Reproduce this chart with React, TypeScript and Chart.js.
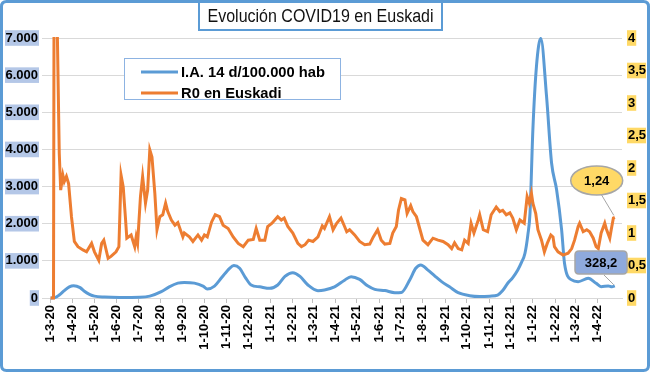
import React, { useEffect, useRef } from "react";
import { Chart, registerables } from "chart.js";

Chart.register(...registerables);

// ---- texts ----
const TITLE = "Evolución COVID19 en Euskadi";
const IA_LABEL = "I.A. 14 d/100.000 hab";
const R0_LABEL = "R0 en Euskadi";

// ---- x axis tick labels (d-m-yy) ----
const tickLabels = [
  "1-3-20", "1-4-20", "1-5-20", "1-6-20", "1-7-20", "1-8-20", "1-9-20", "1-10-20",
  "1-11-20", "1-12-20", "1-1-21", "1-2-21", "1-3-21", "1-4-21", "1-5-21", "1-6-21",
  "1-7-21", "1-8-21", "1-9-21", "1-10-21", "1-11-21", "1-12-21", "1-1-22", "1-2-22",
  "1-3-22", "1-4-22",
];

// ---- I.A. 14 d/100.000 hab (days since 1-3-2020) ----
const iaDays = [
  0, 6, 12, 19, 26, 32, 41, 47, 54, 61, 75, 96, 124, 138, 154, 165, 177, 186, 200, 212,
  218, 228, 238, 249, 255, 263, 271, 279, 291, 305, 316, 326, 337, 347, 358, 372, 381, 395, 409, 418,
  430, 441, 451, 465, 479, 488, 500, 508, 515, 525, 534, 544, 555, 567, 583, 597, 611, 622, 629, 636,
  643, 650, 655, 660, 664, 667, 671, 676, 682, 690, 697, 704, 711, 715, 725, 734, 748, 759, 766, 776,
  781, 785,
];
const iaValues = [
  0, 10, 80, 200, 300, 332, 280, 180, 100, 50, 25, 15, 20, 50, 170, 300, 400, 420, 400, 320,
  243, 320, 550, 800, 872, 800, 550, 350, 300, 260, 350, 580, 683, 580, 350, 197, 216, 300, 480, 575,
  500, 330, 234, 200, 143, 150, 500, 800, 890, 750, 600, 440, 300, 143, 62, 40, 50, 80, 200, 396,
  550, 755, 950, 1206, 1700, 2285, 4533, 6241, 6990, 5432, 3634, 2914, 1835, 936, 486, 440, 530, 396, 305, 324,
  300, 328.2,
];

// ---- R0 en Euskadi (days since 1-3-2020) ----
const r0Days = [
  0, 4, 5, 9, 12, 14, 17, 19, 22, 25, 29, 33, 38, 45, 50, 57, 61, 67, 71, 74,
  80, 84, 91, 95, 98, 101, 104, 106, 112, 117, 119, 121, 125, 128, 132, 135, 138, 141, 145, 148,
  152, 156, 160, 163, 168, 173, 177, 184, 186, 193, 198, 205, 210, 214, 218, 224, 229, 235, 240, 247,
  254, 261, 268, 275, 282, 286, 291, 298, 302, 308, 316, 321, 325, 330, 337, 344, 349, 354, 359, 365,
  372, 378, 381, 388, 393, 398, 404, 409, 412, 416, 423, 430, 437, 444, 449, 455, 460, 465, 472, 476,
  481, 484, 488, 493, 496, 501, 504, 509, 514, 518, 525, 532, 539, 546, 553, 558, 562, 567, 572, 576,
  581, 585, 589, 595, 597, 602, 608, 613, 620, 625, 629, 634, 639, 643, 648, 653, 659, 663, 666, 669,
  671, 675, 678, 683, 687, 691, 696, 699, 701, 706, 713, 720, 725, 729, 734, 736, 741, 746, 750, 755,
  759, 762, 766, 771, 773, 778, 780, 783, 785,
];
const r0Values = [
  0, 0, 6, 4.3, 2.23, 1.66, 1.89, 1.79, 1.87, 1.76, 1.25, 0.87, 0.79, 0.74, 0.71, 0.84, 0.71, 0.58, 0.84, 0.89,
  0.61, 0.64, 0.71, 0.79, 1.89, 1.71, 1.25, 0.92, 0.97, 0.79, 0.94, 0.84, 1.56, 1.87, 1.46, 1.66, 2.28, 2.17, 1.61, 1.05,
  1.25, 1.28, 1.46, 1.33, 1.2, 1.12, 1.16, 0.94, 1.0, 0.94, 0.87, 0.97, 0.89, 0.97, 0.94, 1.17, 1.28, 1.25, 1.12, 1.07,
  0.94, 0.84, 0.79, 0.89, 0.9, 1.07, 0.89, 0.89, 1.1, 1.15, 1.25, 1.2, 1.23, 1.1, 1.0, 0.84, 0.79, 0.82, 0.89, 0.87,
  0.94, 1.11, 1.07, 1.25, 1.05, 1.15, 1.23, 1.1, 1.02, 1.05, 0.97, 0.87, 0.82, 0.83, 0.94, 1.05, 0.89, 0.83, 0.84, 1.0,
  1.1, 1.35, 1.53, 1.51, 1.3, 1.42, 1.33, 1.25, 1.05, 0.89, 0.82, 0.92, 0.89, 0.87, 0.82, 0.76, 0.85, 0.76, 0.74, 0.89,
  0.84, 1.15, 1.0, 1.2, 1.28, 1.05, 1.02, 1.28, 1.4, 1.33, 1.35, 1.28, 1.31, 1.23, 1.05, 1.2, 1.15, 1.56, 1.46, 1.61,
  1.46, 1.3, 1.05, 0.89, 0.71, 0.84, 0.97, 0.94, 0.79, 0.71, 0.66, 0.69, 0.76, 0.89, 1.1, 1.15, 1.02, 1.05, 1.02, 0.92,
  0.79, 0.76, 1.0, 1.15, 1.07, 0.92, 1.05, 1.23, 1.24,
];

// ---- axis ranges ----
const X_MIN = -12;
const X_MAX = 795;
const IA_MAX = 7000;
const IA_STEP = 1000;
const R0_MAX = 4;
const R0_STEP = 0.5;

// ---- styles ----
const BLUE = "#5b9bd5";
const ORANGE = "#ed7d31";
const GRID = "#d9d9d9";
const FAMILY = "'Liberation Sans', Arial, sans-serif";
const TICK_FONT = { family: FAMILY, size: 13, weight: "bold" as const };

const DAY0 = Date.UTC(2020, 2, 1);
function dayOfLabel(lbl: string): number {
  const [d, m, y] = lbl.split("-").map(Number);
  return Math.round((Date.UTC(2000 + y, m - 1, d) - DAY0) / 86400000);
}
const tickDays = tickLabels.map(dayOfLabel);

function fmtThousands(v: number): string {
  return String(Math.round(v)).replace(/\B(?=(\d{3})+(?!\d))/g, ".");
}
function fmtComma(v: number): string {
  return String(v).replace(".", ",");
}

function roundRect(ctx: CanvasRenderingContext2D, x: number, y: number, w: number, h: number, r: number) {
  ctx.beginPath();
  ctx.moveTo(x + r, y);
  ctx.lineTo(x + w - r, y);
  ctx.quadraticCurveTo(x + w, y, x + w, y + r);
  ctx.lineTo(x + w, y + h - r);
  ctx.quadraticCurveTo(x + w, y + h, x + w - r, y + h);
  ctx.lineTo(x + r, y + h);
  ctx.quadraticCurveTo(x, y + h, x, y + h - r);
  ctx.lineTo(x, y + r);
  ctx.quadraticCurveTo(x, y, x + r, y);
  ctx.closePath();
}

// draws text horizontally condensed by factor k (left-aligned at x)
function drawCondensed(ctx: CanvasRenderingContext2D, text: string, x: number, y: number, k: number) {
  ctx.save();
  ctx.translate(x, y);
  ctx.scale(k, 1);
  ctx.textAlign = "left";
  ctx.fillText(text, 0, 0);
  ctx.restore();
}

const overlayPlugin = {
  id: "overlay",
  beforeDraw(chart: any) {
    const ctx = chart.ctx as CanvasRenderingContext2D;
    ctx.save();
    ctx.fillStyle = "#ffffff";
    ctx.fillRect(0, 0, chart.width, chart.height);
    ctx.restore();
  },
  afterDraw(chart: any) {
    const ctx = chart.ctx as CanvasRenderingContext2D;
    const W = chart.width;
    const H = chart.height;
    ctx.save();

    // outer border
    ctx.strokeStyle = BLUE;
    ctx.lineWidth = 3;
    roundRect(ctx, 1.5, 1.5, W - 3, H - 3, 5);
    ctx.stroke();

    // title box
    ctx.fillStyle = "#ffffff";
    ctx.fillRect(199, 2, 243, 28);
    ctx.strokeStyle = BLUE;
    ctx.lineWidth = 2;
    ctx.strokeRect(199, 2, 243, 28);
    ctx.fillStyle = "#111111";
    ctx.font = `18px ${FAMILY}`;
    ctx.textBaseline = "middle";
    {
      const w = ctx.measureText(TITLE).width;
      const k = 226 / w;
      drawCondensed(ctx, TITLE, 320.5 - 113, 17, k);
    }

    // legend box
    ctx.fillStyle = "#ffffff";
    ctx.fillRect(124.5, 58.5, 216, 41);
    ctx.strokeStyle = "#8db3e2";
    ctx.lineWidth = 1;
    ctx.strokeRect(124.5, 58.5, 216, 41);
    const rows = [
      { y: 72, color: BLUE, text: IA_LABEL },
      { y: 93, color: ORANGE, text: R0_LABEL },
    ];
    ctx.font = `bold 15.5px ${FAMILY}`;
    ctx.textBaseline = "middle";
    const kLeg = 144 / ctx.measureText(IA_LABEL).width;
    for (const r of rows) {
      ctx.strokeStyle = r.color;
      ctx.lineWidth = 3;
      ctx.beginPath();
      ctx.moveTo(141, r.y);
      ctx.lineTo(178, r.y);
      ctx.stroke();
      ctx.fillStyle = "#000000";
      drawCondensed(ctx, r.text, 181, r.y + 0.5, kLeg);
    }

    // annotations
    const xs = chart.scales.x;
    const ys = chart.scales.y;
    const y1 = chart.scales.y1;
    const lastR0 = r0Values[r0Values.length - 1];
    const lastIA = iaValues[iaValues.length - 1];
    const r0x = xs.getPixelForValue(r0Days[r0Days.length - 1]);
    const r0y = y1.getPixelForValue(lastR0);
    const iax = xs.getPixelForValue(iaDays[iaDays.length - 1]);
    const iay = ys.getPixelForValue(lastIA);

    ctx.strokeStyle = "#a6a6a6";
    ctx.lineWidth = 1;
    ctx.beginPath();
    ctx.moveTo(601, 194);
    ctx.lineTo(r0x - 1, r0y - 2);
    ctx.moveTo(604, 275);
    ctx.lineTo(iax - 1, iay - 1);
    ctx.stroke();

    // ellipse 1,24
    ctx.beginPath();
    ctx.ellipse(596.7, 180.5, 26, 14.5, 0, 0, Math.PI * 2);
    ctx.fillStyle = "#ffd966";
    ctx.fill();
    ctx.strokeStyle = "#a6a6a6";
    ctx.lineWidth = 1.5;
    ctx.stroke();
    ctx.fillStyle = "#000000";
    ctx.font = `bold 13px ${FAMILY}`;
    ctx.textAlign = "center";
    ctx.textBaseline = "middle";
    ctx.fillText(fmtComma(lastR0), 596.7, 181);

    // rect 328,2
    roundRect(ctx, 575, 251, 52, 23, 4);
    ctx.fillStyle = "#8faadc";
    ctx.fill();
    ctx.strokeStyle = "#a6a6a6";
    ctx.lineWidth = 1.5;
    ctx.stroke();
    ctx.fillStyle = "#000000";
    ctx.textAlign = "center";
    ctx.fillText(fmtComma(lastIA), 601, 263);

    ctx.restore();
  },
};

export default function App() {
  const canvasRef = useRef<HTMLCanvasElement | null>(null);

  useEffect(() => {
    document.body.style.margin = "0";
    const canvas = canvasRef.current;
    if (!canvas) return;

    const chart = new Chart(canvas, {
      type: "line",
      data: {
        datasets: [
          {
            label: R0_LABEL,
            data: r0Days.map((d, i) => ({ x: d, y: r0Values[i] })),
            borderColor: ORANGE,
            backgroundColor: ORANGE,
            borderWidth: 3,
            pointRadius: 0,
            tension: 0,
            yAxisID: "y1",
            order: 0,
            clip: { left: 0, right: 0, top: 1, bottom: 2 } as any,
          },
          {
            label: IA_LABEL,
            data: iaDays.map((d, i) => ({ x: d, y: iaValues[i] })),
            borderColor: BLUE,
            backgroundColor: BLUE,
            borderWidth: 3,
            pointRadius: 0,
            cubicInterpolationMode: "monotone",
            yAxisID: "y",
            order: 1,
            clip: { left: 0, right: 0, top: 1, bottom: 2 } as any,
          },
        ],
      },
      options: {
        responsive: false,
        animation: false,
        devicePixelRatio: 1,
        layout: { padding: { left: 5, right: 4, top: 38, bottom: 4 } },
        plugins: {
          legend: { display: false },
          title: { display: false },
          tooltip: { enabled: false },
        },
        scales: {
          x: {
            type: "linear",
            min: X_MIN,
            max: X_MAX,
            afterBuildTicks: (scale: any) => {
              scale.ticks = tickDays.map((v) => ({ value: v }));
            },
            afterFit: (scale: any) => {
              scale.height = 70;
            },
            ticks: {
              autoSkip: false,
              minRotation: 90,
              maxRotation: 90,
              padding: 2,
              color: "#000000",
              font: TICK_FONT,
              callback: (_v: any, i: number) => tickLabels[i],
            },
            grid: {
              drawOnChartArea: false,
              color: "#bfbfbf",
              tickLength: 5,
            },
            border: { color: GRID, width: 1 },
          },
          y: {
            type: "linear",
            position: "left",
            min: 0,
            max: IA_MAX,
            afterFit: (scale: any) => {
              scale.width = 37;
            },
            ticks: {
              stepSize: IA_STEP,
              padding: 4,
              color: "#000000",
              font: TICK_FONT,
              showLabelBackdrop: true,
              backdropColor: "#b4c7e7",
              backdropPadding: { top: 0, bottom: 0, left: 1, right: 1 },
              callback: (v: any) => fmtThousands(Number(v)),
            },
            grid: { color: GRID, drawTicks: false },
            border: { display: false },
          },
          y1: {
            type: "linear",
            position: "right",
            min: 0,
            max: R0_MAX,
            afterFit: (scale: any) => {
              scale.width = 24;
            },
            ticks: {
              stepSize: R0_STEP,
              padding: 6,
              color: "#000000",
              font: TICK_FONT,
              showLabelBackdrop: true,
              backdropColor: "#ffd966",
              backdropPadding: { top: 0, bottom: 0, left: 1, right: 1 },
              callback: (v: any) => fmtComma(Number(v)),
            },
            grid: { drawOnChartArea: false, drawTicks: false },
            border: { display: false },
          },
        },
      },
      plugins: [overlayPlugin],
    } as any);

    return () => chart.destroy();
  }, []);

  return (
    <div style={{ width: 650, height: 372 }}>
      <canvas ref={canvasRef} width={650} height={372} style={{ display: "block" }} />
    </div>
  );
}
